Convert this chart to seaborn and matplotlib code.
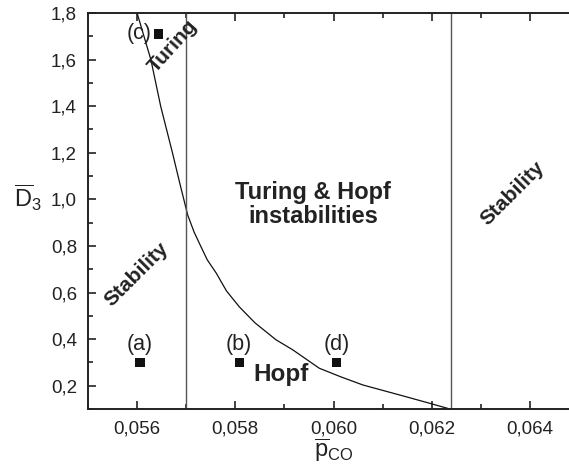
import numpy as np
import pandas as pd
import seaborn as sns
import matplotlib.pyplot as plt
from matplotlib.ticker import FuncFormatter, MultipleLocator

# boundary curve
curve_x = [0.05600, 0.05628, 0.05648, 0.05672, 0.05688, 0.05703, 0.05716,
           0.05730, 0.05743, 0.05761, 0.05782, 0.05808, 0.05840, 0.05883,
           0.05917, 0.05971, 0.06015, 0.06060, 0.06135, 0.06190, 0.06237]
curve_y = [1.80, 1.60, 1.40, 1.20, 1.06, 0.933, 0.860,
           0.797, 0.740, 0.684, 0.607, 0.539, 0.470, 0.397,
           0.354, 0.275, 0.238, 0.203, 0.160, 0.128, 0.100]

# vertical boundaries
vlines_x = [0.0570, 0.0624]

# marked points
pt_labels = ['(a)', '(b)', '(c)', '(d)']
pt_x = [0.05606, 0.05808, 0.05643, 0.06006]
pt_y = [0.30, 0.30, 1.71, 0.30]

sns.set_theme(style="ticks")
plt.rcParams['font.family'] = ['Liberation Sans', 'DejaVu Sans']
plt.rcParams['mathtext.fontset'] = 'custom'
plt.rcParams['mathtext.rm'] = 'Liberation Sans'
plt.rcParams['mathtext.it'] = 'Liberation Sans:italic'

fig = plt.figure(figsize=(5.69, 4.74), dpi=100)
ax = fig.add_axes([88 / 569, 65 / 474, 491 / 569, 396 / 474])

curve = pd.DataFrame({'x': curve_x, 'y': curve_y})
sns.lineplot(data=curve, x='x', y='y', sort=False, color='#111111', lw=0.9, ax=ax)
for xv in vlines_x:
    ax.axvline(xv, color='#555555', lw=1.0)

pts = pd.DataFrame({'x': pt_x, 'y': pt_y, 'lab': pt_labels})
sns.scatterplot(data=pts, x='x', y='y', marker='s', s=45, color='#111111',
                edgecolor='none', ax=ax, zorder=5)
for _, r in pts.iterrows():
    if r['lab'] == '(c)':
        ax.text(r['x'] - 0.00013, r['y'], r['lab'], ha='right', va='center',
                fontsize=15.5, color='#222222')
    else:
        ax.text(r['x'], r['y'] + 0.078, r['lab'], ha='center', va='center',
                fontsize=15.5, color='#222222')

ax.text(0.05959, 0.976, 'Turing & Hopf\ninstabilities', ha='center', va='center',
        fontsize=17, fontweight='bold', color='#222222', linespacing=1.05)
ax.text(0.05894, 0.246, 'Hopf', ha='center', va='center',
        fontsize=17.5, fontweight='bold', color='#222222')
ax.text(0.05598, 0.676, 'Stability', ha='center', va='center', rotation=45,
        fontsize=15, fontweight='bold', color='#222222')
ax.text(0.06365, 1.027, 'Stability', ha='center', va='center', rotation=45,
        fontsize=15, fontweight='bold', color='#222222')
ax.text(0.05673, 1.660, 'Turing', ha='center', va='center', rotation=48,
        fontsize=15, fontweight='bold', color='#222222')

ax.set_xlim(0.055, 0.065)
ax.set_ylim(0.1, 1.8)
ax.xaxis.set_major_locator(MultipleLocator(0.002))
ax.xaxis.set_minor_locator(MultipleLocator(0.001))
ax.yaxis.set_major_locator(MultipleLocator(0.2))
ax.yaxis.set_minor_locator(MultipleLocator(0.1))
ax.xaxis.set_major_formatter(FuncFormatter(lambda v, p: f'{v:.3f}'.replace('.', ',')))
ax.yaxis.set_major_formatter(FuncFormatter(lambda v, p: f'{v:.1f}'.replace('.', ',')))
ax.set_yticks([0.2, 0.4, 0.6, 0.8, 1.0, 1.2, 1.4, 1.6, 1.8])
ax.tick_params(which='both', direction='in', top=True, right=True,
               width=1.2, color='#222222', labelsize=13.5, labelcolor='#222222')
ax.tick_params(which='major', length=6, pad=8)
ax.tick_params(which='minor', length=3.5)
for s in ax.spines.values():
    s.set_linewidth(1.4)
    s.set_color('#222222')

ax.set_xlabel(r'$\overline{\mathrm{p}}_{\mathrm{CO}}$', fontsize=17, color='#222222', labelpad=0)
ax.set_ylabel(r'$\overline{\mathrm{D}}_{3}$', fontsize=17, color='#222222', rotation=0,
              labelpad=0, ha='right', va='center')
ax.yaxis.set_label_coords(-0.095, 0.535)

fig.savefig('out.png', dpi=100)
